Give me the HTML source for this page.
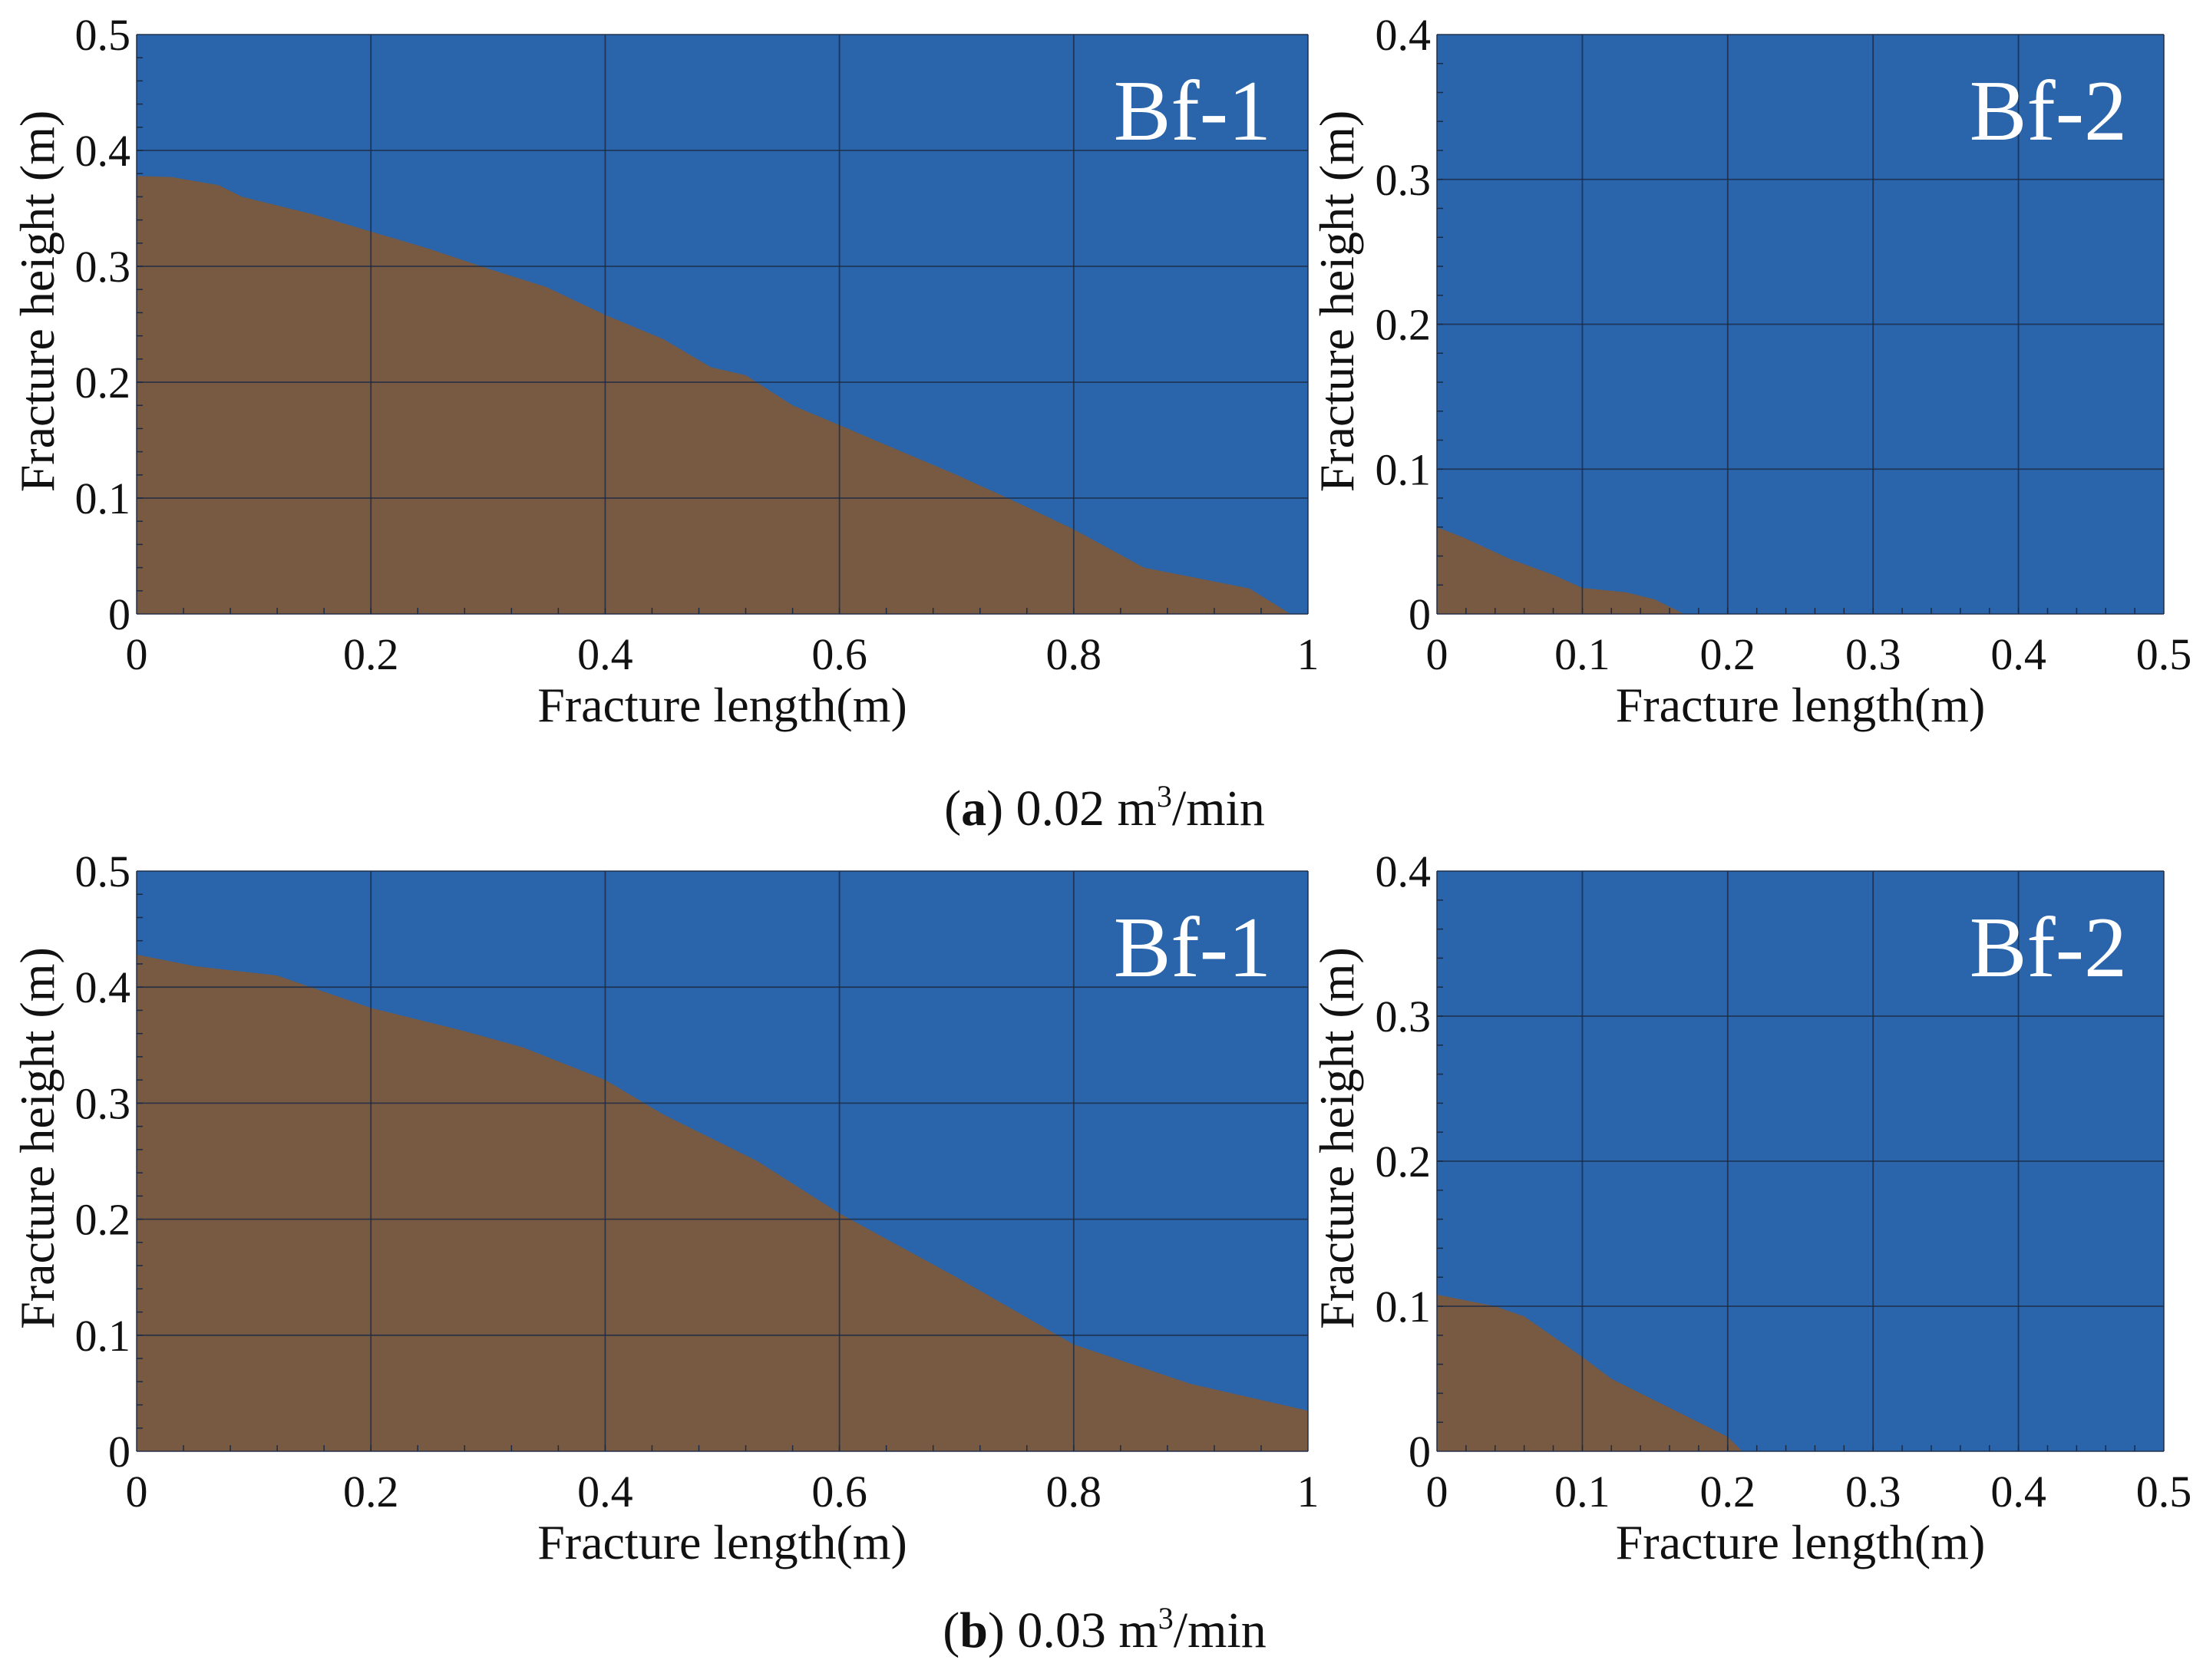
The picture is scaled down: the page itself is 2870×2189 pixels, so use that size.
<!DOCTYPE html>
<html><head><meta charset="utf-8">
<style>
html,body{margin:0;padding:0;background:#fff;}
svg{display:block;}
text{font-family:"Liberation Serif","DejaVu Serif","Times New Roman",serif;fill:#111;}
</style></head>
<body>
<svg id="fig" width="2870" height="2189" viewBox="0 0 2870 2189" xmlns="http://www.w3.org/2000/svg" font-family="Liberation Serif, DejaVu Serif, serif"></svg>
<script>
// Panel (a) Bf-1
const a1X = [0,0.03,0.07,0.09,0.15,0.2,0.25,0.3,0.35,0.4,0.45,0.49,0.52,0.56,0.6,0.63,0.7,0.75,0.8,0.86,0.9,0.95,0.985];
const a1Y = [0.378,0.377,0.37,0.36,0.345,0.33,0.315,0.298,0.282,0.258,0.237,0.213,0.206,0.18,0.163,0.15,0.12,0.097,0.073,0.04,0.032,0.022,0];
// Panel (a) Bf-2
const a2X = [0,0.02,0.05,0.08,0.1,0.13,0.15,0.17];
const a2Y = [0.06,0.052,0.038,0.027,0.018,0.015,0.01,0];
// Panel (b) Bf-1
const b1X = [0,0.05,0.12,0.2,0.28,0.33,0.4,0.45,0.53,0.6,0.7,0.8,0.9,1.0];
const b1Y = [0.428,0.418,0.41,0.382,0.362,0.348,0.32,0.29,0.25,0.205,0.15,0.092,0.058,0.035];
// Panel (b) Bf-2
const b2X = [0,0.04,0.06,0.1,0.12,0.15,0.2,0.21];
const b2Y = [0.108,0.1,0.093,0.065,0.05,0.035,0.01,0];
// Ticks
const xTicks1 = [0,0.2,0.4,0.6,0.8,1];
const xTickLabels1 = ["0","0.2","0.4","0.6","0.8","1"];
const yTicks1 = [0,0.1,0.2,0.3,0.4,0.5];
const yTickLabels1 = ["0","0.1","0.2","0.3","0.4","0.5"];
const xTicks2 = [0,0.1,0.2,0.3,0.4,0.5];
const xTickLabels2 = ["0","0.1","0.2","0.3","0.4","0.5"];
const yTicks2 = [0,0.1,0.2,0.3,0.4];
const yTickLabels2 = ["0","0.1","0.2","0.3","0.4"];

const NS = "http://www.w3.org/2000/svg";
const svg = document.getElementById('fig');
const FF = 'Liberation Serif, DejaVu Serif, serif';
function mk(tag, attrs, parent){
  const e = document.createElementNS(NS, tag);
  for (const k in attrs) e.setAttribute(k, attrs[k]);
  if (tag === 'text') e.setAttribute('font-family', FF);
  (parent||svg).appendChild(e);
  return e;
}

function panel(name, L, R, T, B, xmax, ymax, xs, ys, xt, xtl, yt, ytl, label, ytitleX){
  const g = mk('g', {});
  
  
  const sx = v => L + (R-L)*v/xmax;
  const sy = v => B - (B-T)*v/ymax;
  const bg = mk('rect', {x:L, y:T, width:R-L, height:B-T, fill:'#2a64aa'}, g);
  
  
  let d = 'M' + sx(xs[0]) + ',' + sy(0);
  for (let i=0;i<xs.length;i++) d += ' L' + sx(xs[i]) + ',' + sy(ys[i]);
  d += ' L' + sx(xs[xs.length-1]) + ',' + sy(0) + ' Z';
  const area = mk('path', {d:d, fill:'#785a42'}, g);
  
  
  xt.forEach((v,i)=>{
    const ln = mk('line', {x1:sx(v), x2:sx(v), y1:T, y2:B, stroke:'#1b2b45', 'stroke-width':1.8, 'stroke-opacity':0.8}, g);
    
    
    const t = mk('text', {x:sx(v), y:B+72, 'font-size':58, 'text-anchor':'middle'}, g);
    t.textContent = xtl[i];
    
    
  });
  yt.forEach((v,i)=>{
    const ln = mk('line', {x1:L, x2:R, y1:sy(v), y2:sy(v), stroke:'#1b2b45', 'stroke-width':1.8, 'stroke-opacity':0.8}, g);
    
    
    const t = mk('text', {x:L-8, y:sy(v)+20, 'font-size':58, 'text-anchor':'end'}, g);
    t.textContent = ytl[i];
    
    
  });
  const nxm = (xt.length-1)*5, nym = (yt.length-1)*5;
  for (let i=1;i<nxm;i++){ const x = L+(R-L)*i/nxm; mk('line',{x1:x,x2:x,y1:B,y2:B-8,stroke:'#1b2b45','stroke-width':1.5},g); }
  for (let i=1;i<nym;i++){ const y = B-(B-T)*i/nym; mk('line',{x1:L,x2:L+8,y1:y,y2:y,stroke:'#1b2b45','stroke-width':1.5},g); }
  const lbl = mk('text', {x:R-48, y:T+137, 'font-size':112, 'text-anchor':'end', fill:'#fff', style:'fill:#fff'}, g);
  lbl.textContent = label;
  
  
  const xtitle = mk('text', {x:(L+R)/2, y:B+140, 'font-size':64, 'text-anchor':'middle'}, g);
  xtitle.textContent = 'Fracture length(m)';
  
  
  const cy = (T+B)/2 - 30;
  const ytitle = mk('text', {x:ytitleX, y:cy, 'font-size':64, 'text-anchor':'middle', transform:'rotate(-90 '+ytitleX+' '+cy+')'}, g);
  ytitle.textContent = 'Fracture height (m)';
  
  
}

panel('panel-a-bf1', 178, 1704, 45, 800, 1, 0.5, a1X, a1Y, xTicks1, xTickLabels1, yTicks1, yTickLabels1, 'Bf-1', 70);
panel('panel-a-bf2', 1872, 2819, 45, 800, 0.5, 0.4, a2X, a2Y, xTicks2, xTickLabels2, yTicks2, yTickLabels2, 'Bf-2', 1763);
panel('panel-b-bf1', 178, 1704, 1135, 1891, 1, 0.5, b1X, b1Y, xTicks1, xTickLabels1, yTicks1, yTickLabels1, 'Bf-1', 70);
panel('panel-b-bf2', 1872, 2819, 1135, 1891, 0.5, 0.4, b2X, b2Y, xTicks2, xTickLabels2, yTicks2, yTickLabels2, 'Bf-2', 1763);

function caption(y, letter, rate, name){
  const t = mk('text', {x:1439, y:y, 'font-size':66, 'text-anchor':'middle'});
  
  
  t.innerHTML = '(<tspan font-weight="bold">'+letter+'</tspan>) '+rate+' m<tspan font-size="40" dy="-24">3</tspan><tspan dy="24">/min</tspan>';
}
caption(1075, 'a', '0.02', 'caption-a');
caption(2146, 'b', '0.03', 'caption-b');
</script>
</body></html>
